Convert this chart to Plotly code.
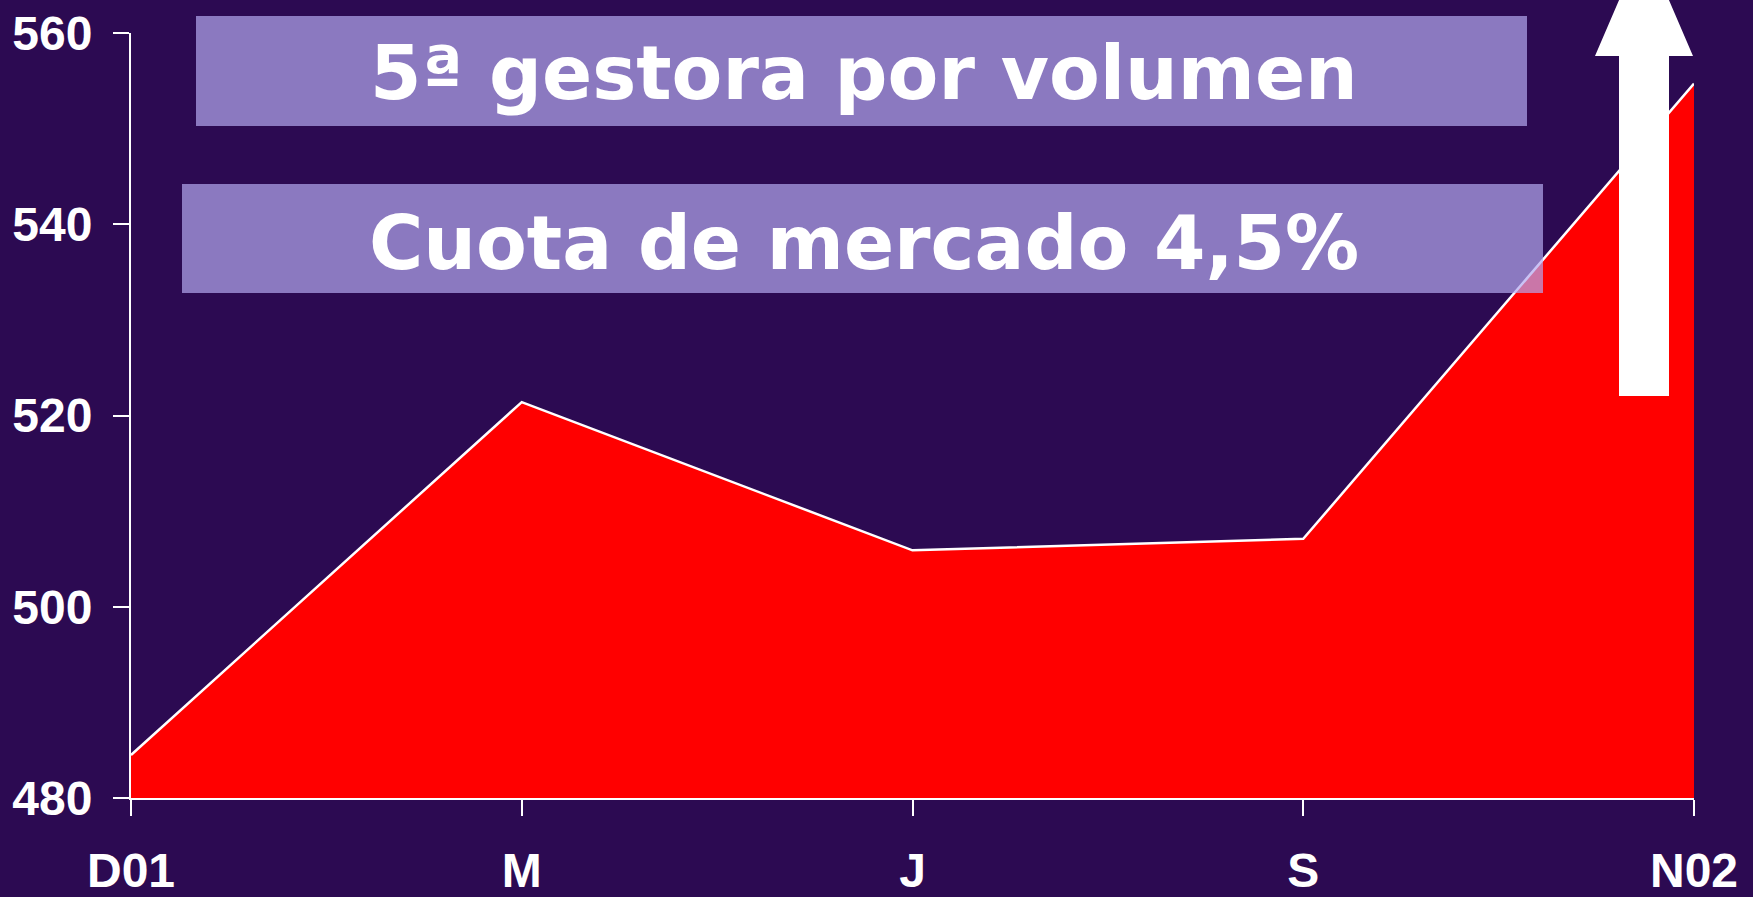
import plotly.graph_objects as go

categories = ["D01", "M", "J", "S", "N02"]
values = [484.5, 521.4, 505.9, 507.1, 554.7]
y_ticks = [480, 500, 520, 540, 560]
banner_texts = ["5ª gestora por volumen", "Cuota de mercado 4,5%"]

BG = "#2C0A52"
W, H = 1753, 897
L, R, T, B = 131, 59, 33, 99
pw, ph = W - L - R, H - T - B

def px(xp):
    return (xp - L) / pw

def py(yp):
    return (H - B - yp) / ph

x_idx = list(range(len(categories)))

fig = go.Figure()
fig.add_trace(go.Scatter(
    x=x_idx, y=values, mode="lines", fill="tozeroy",
    fillcolor="#FF0000", line=dict(color="white", width=2.5),
    hoverinfo="skip", showlegend=False,
))

shapes = []
# banner boxes
boxes = [(196, 16, 1527, 126), (182, 184, 1543, 293)]
for (x0, y0, x1, y1) in boxes:
    shapes.append(dict(type="rect", xref="paper", yref="paper",
                       x0=px(x0), x1=px(x1), y0=py(y1), y1=py(y0),
                       fillcolor="rgba(180,168,240,0.70)", line=dict(width=0),
                       layer="above"))
# up arrow
ax = [1595, 1619, 1619, 1669, 1669, 1693, 1644]
ay = [56, 56, 396, 396, 56, 56, -58]
path = "M {},{} L {},{} L {},{} L {},{} L {},{} L {},{} L {},{} Z".format(
    px(ax[0]), py(ay[0]), px(ax[1]), py(ay[1]), px(ax[2]), py(ay[2]),
    px(ax[3]), py(ay[3]), px(ax[4]), py(ay[4]), px(ax[5]), py(ay[5]),
    px(ax[6]), py(ay[6]))
shapes.append(dict(type="path", xref="paper", yref="paper", path=path,
                   fillcolor="white", line=dict(width=0), layer="above"))

annotations = []
for txt, yc in zip(banner_texts, [73, 243]):
    annotations.append(dict(
        text=txt, xref="paper", yref="paper", x=px(864), y=py(yc),
        xanchor="center", yanchor="middle", showarrow=False,
        font=dict(family="DejaVu Sans", size=74, color="white", weight="bold"),
    ))

tickfont = dict(family="Liberation Sans, Arial", size=48, color="white", weight="bold")

fig.update_layout(
    width=W, height=H,
    paper_bgcolor=BG, plot_bgcolor=BG,
    margin=dict(l=L, r=R, t=T, b=B, autoexpand=False),
    shapes=shapes, annotations=annotations,
    xaxis=dict(range=[0, len(categories) - 1], tickvals=x_idx, ticktext=categories,
               showgrid=False, zeroline=False, showline=True, linecolor="white",
               linewidth=2, ticks="outside", ticklen=16, tickwidth=2,
               tickcolor="white", tickfont=tickfont, ticklabelstandoff=13,
               automargin=False),
    yaxis=dict(range=[y_ticks[0], y_ticks[-1]], tickvals=y_ticks,
               showgrid=False, zeroline=False, showline=True, linecolor="white",
               linewidth=2, ticks="outside", ticklen=16, tickwidth=2,
               tickcolor="white", tickfont=tickfont, ticklabelstandoff=11,
               automargin=False),
)

fig.write_html("out.html", config={"displayModeBar": False}, post_script=(
    "document.body.style.margin='0';document.body.style.overflow='hidden';"
    f"document.body.style.background='{BG}';"))
